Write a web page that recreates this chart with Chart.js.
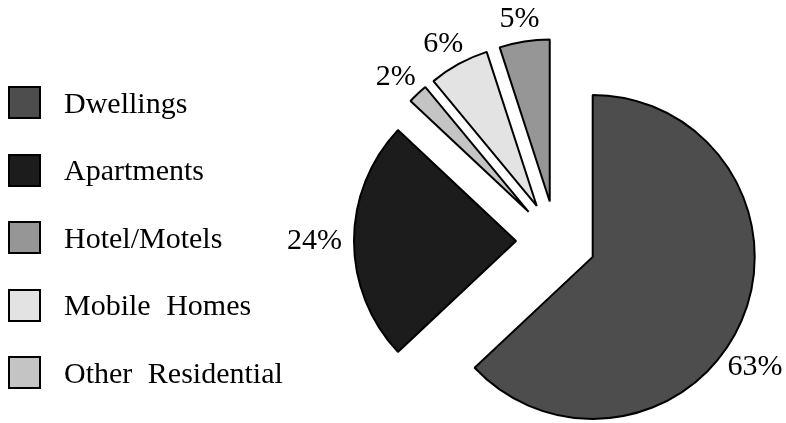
<!DOCTYPE html>
<html>
<head>
<meta charset="utf-8">
<script src="https://cdn.jsdelivr.net/npm/chart.js@4.4.0/dist/chart.umd.min.js"></script>
<style>
  body { margin: 0; background: #fff; }
  #wrap { position: relative; width: 786px; height: 423px; }
  #myChart { position: absolute; left: 0; top: 0; }
  #legend {
    position: absolute; left: 8px; top: 86px; margin: 0; padding: 0; list-style: none;
    font-family: "Liberation Serif", "Times New Roman", serif; font-size: 30px; word-spacing: 8px; color: #000;
  }
  #legend li { display: flex; align-items: center; height: 33px; margin-bottom: 34.5px; white-space: nowrap; }
  #legend .box { width: 33px; height: 33px; box-sizing: border-box; border: 2px solid #000; margin-right: 23px; }
</style>
</head>
<body>
<div id="wrap">
  <canvas id="myChart" width="786" height="423"></canvas>
  <ul id="legend"></ul>
</div>
<script>
// slices, clockwise from 12 o'clock
const categories = ['Dwellings', 'Apartments', 'Other Residential', 'Mobile Homes', 'Hotel/Motels'];
const shares = [63, 24, 2, 6, 5];
const colours = ['#4d4d4d', '#1c1c1c', '#c4c4c4', '#e3e3e3', '#969696'];
// legend is listed in a different order than the slices
const legendOrder = ['Dwellings', 'Apartments', 'Hotel/Motels', 'Mobile Homes', 'Other Residential'];

window.onload = function () {
    buildLegend();
    drawPie();
};

function buildLegend() {
    const ul = document.getElementById('legend');
    legendOrder.forEach(function (name) {
        const i = categories.indexOf(name);
        const li = document.createElement('li');
        const box = document.createElement('span');
        box.className = 'box';
        box.style.background = colours[i];
        li.appendChild(box);
        li.appendChild(document.createTextNode(name));
        ul.appendChild(li);
    });
}

// move every slice straight out along its middle angle
// (chart.js "offset" also grows the radius of some slices, so not used)
const explode = {
    id: 'explode',
    beforeDatasetsDraw(chart, args, opts) {
        const a = chart.chartArea;
        const cx = (a.left + a.right) / 2;
        const cy = (a.top + a.bottom) / 2;
        chart.getDatasetMeta(0).data.forEach(function (arc) {
            const mid = (arc.startAngle + arc.endAngle) / 2;
            arc.x = cx + Math.cos(mid) * opts.distance;
            arc.y = cy + Math.sin(mid) * opts.distance;
        });
    }
};

// percent labels outside each slice
const pctLabels = {
    id: 'pctLabels',
    afterDatasetsDraw(chart) {
        const ctx = chart.ctx;
        const meta = chart.getDatasetMeta(0);
        ctx.save();
        ctx.font = '30px "Liberation Serif", serif';
        ctx.fillStyle = '#000';
        ctx.textAlign = 'center';
        ctx.textBaseline = 'middle';
        meta.data.forEach(function (arc, i) {
            const mid = (arc.startAngle + arc.endAngle) / 2;
            const txt = shares[i] + '%';
            const w = ctx.measureText(txt).width;
            const h = 22;
            const place = function (a) {
                const dx = Math.cos(a), dy = Math.sin(a);
                return {
                    x: arc.x + (arc.outerRadius + 12) * dx + dx * w / 2,
                    y: arc.y + (arc.outerRadius + 12) * dy + dy * h / 2
                };
            };
            let a = mid;
            let pos = place(a);
            let n = 0;
            // push the label round the circle until it fits in the canvas
            while (pos.x + w / 2 > chart.width - 3 && n < 90) {
                a += Math.PI / 180;
                pos = place(a);
                n++;
            }
            ctx.fillText(txt, pos.x, pos.y);
        });
        ctx.restore();
    }
};

function drawPie() {
    new Chart(document.getElementById('myChart'), {
        type: 'pie',
        data: {
            labels: categories,
            datasets: [{
                data: shares,
                backgroundColor: colours,
                borderColor: '#000',
                borderWidth: 2,
                clip: false
            }]
        },
        options: {
            responsive: false,
            animation: false,
            radius: 162,
            layout: { padding: { left: 326, top: 59, right: 0, bottom: 0 } },
            plugins: {
                legend: { display: false },
                tooltip: { enabled: false },
                explode: { distance: 40 }
            }
        },
        plugins: [explode, pctLabels]
    });
}
</script>
</body>
</html>
